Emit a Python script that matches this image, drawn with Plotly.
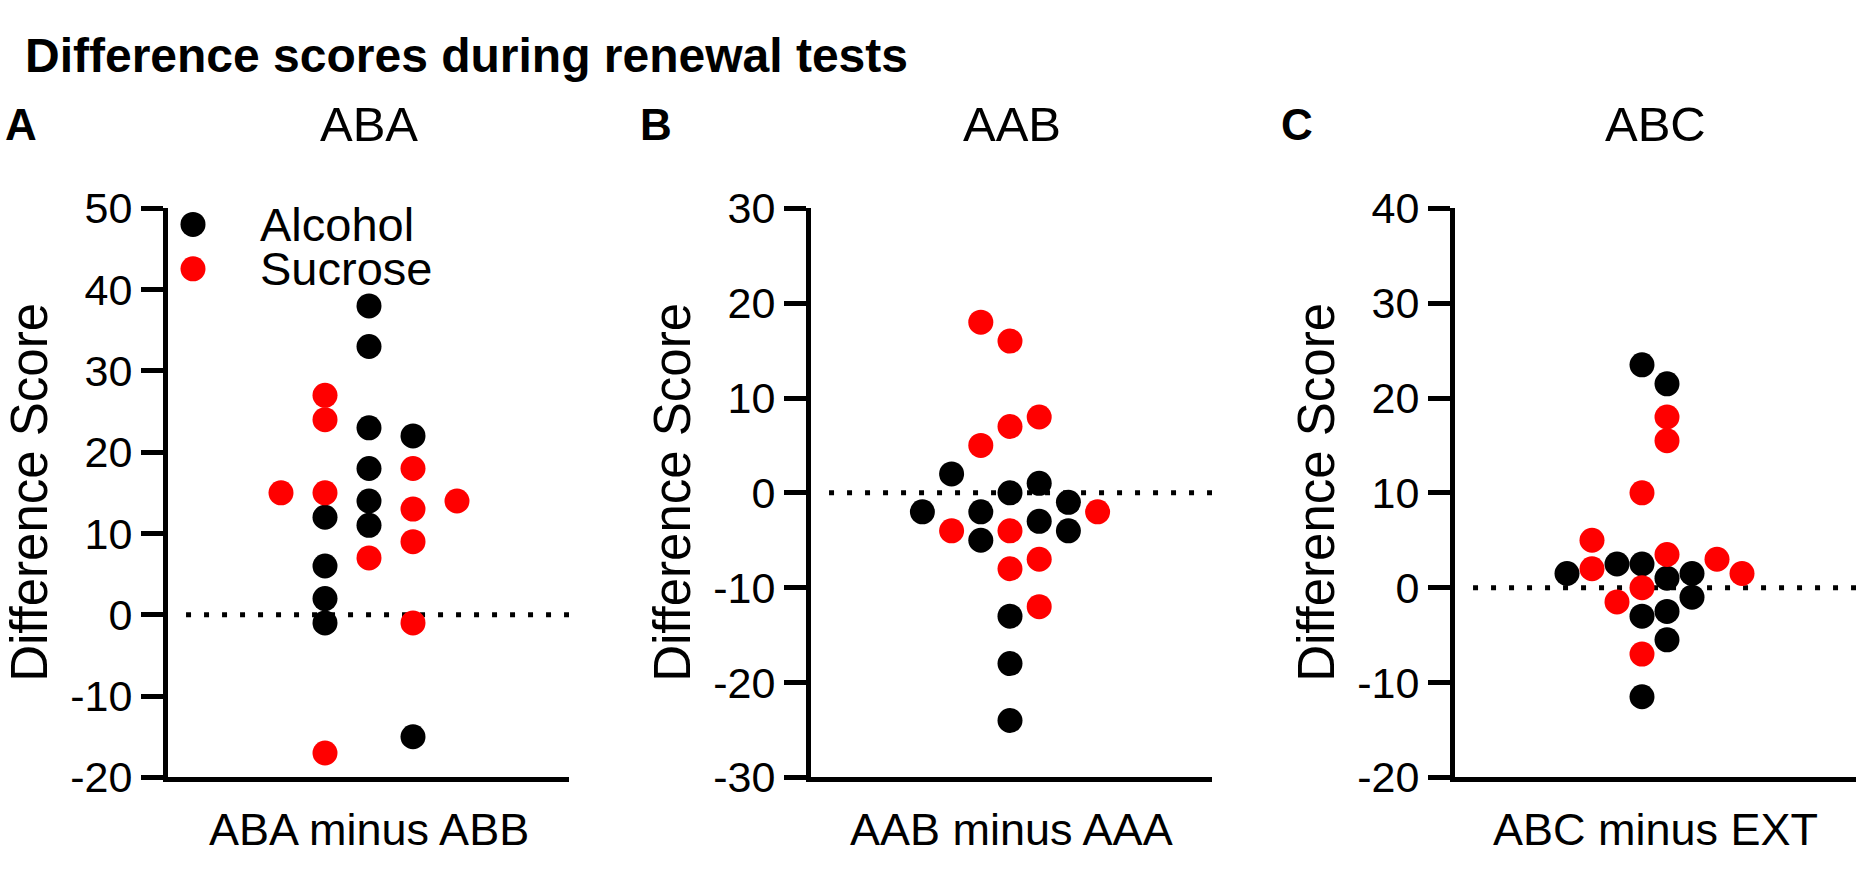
import plotly.graph_objects as go

W, H = 1861, 877
FONT = "Liberation Sans, Arial, sans-serif"

# --- data (difference scores) ---
# column index = horizontal slot of the dot in the scatter (beeswarm) column
aba_alcohol = [38, 33, 23, 18, 14, 11, 22, 12, 6, 2, -1, -15]
aba_alcohol_col = [0, 0, 0, 0, 0, 0, 1, -1, -1, -1, -1, 1]
aba_sucrose = [27, 24, 15, 15, 7, 18, 13, 9, -1, 14, -17]
aba_sucrose_col = [-1, -1, -2, -1, 0, 1, 1, 1, 1, 2, -1]

aab_alcohol = [2, -2, -2, -5, 0, 1, -1, -3, -4, -13, -18, -24]
aab_alcohol_col = [-2, -3, -1, -1, 0, 1, 2, 1, 2, 0, 0, 0]
aab_sucrose = [18, 16, 8, 7, 5, -4, -4, -2, -8, -7, -12]
aab_sucrose_col = [-1, 0, 1, 0, -1, -2, 0, 3, 0, 1, 1]

abc_alcohol = [23.5, 21.5, 1.5, 2.5, 2.5, 1, 1.5, -1, -3, -2.5, -5.5, -11.5]
abc_alcohol_col = [0, 1, -3, -1, 0, 1, 2, 2, 0, 1, 1, 0]
abc_sucrose = [18, 15.5, 10, 5, 2, 3.5, 3, 1.5, 0, -1.5, -7]
abc_sucrose_col = [1, 1, 0, -2, -2, 1, 3, 4, 0, -1, 0]

panel_letters = ["A", "B", "C"]
panel_titles = ["ABA", "AAB", "ABC"]
x_labels = ["ABA minus ABB", "AAB minus AAA", "ABC minus EXT"]
y_ranges = [(-20, 50), (-30, 30), (-20, 40)]
group_names = ["Alcohol", "Sucrose"]
group_colors = ["#000000", "#ff0000"]

panels = [
    (aba_alcohol, aba_alcohol_col, aba_sucrose, aba_sucrose_col),
    (aab_alcohol, aab_alcohol_col, aab_sucrose, aab_sucrose_col),
    (abc_alcohol, abc_alcohol_col, abc_sucrose, abc_sucrose_col),
]

# --- layout geometry (pixels) ---
axis_left = [168, 811, 1455]   # y axis position of each panel
axis_width = 401
plot_top, plot_bottom = 195, 797
col_step = [44, 29.2, 25]       # pixel distance between swarm columns
col_center = [201, 199, 187]    # pixel offset of column 0 from the y axis
letter_x = [21, 656, 1297]


def px_x(v):
    return v / W


def px_y(v):
    return (H - v) / H


fig = go.Figure()
layout = {}
annotations = []
shapes = []

for i, (alc, alc_col, suc, suc_col) in enumerate(panels):
    n = "" if i == 0 else str(i + 1)
    xa, ya = "x" + n, "y" + n

    for vals, cols, color in ((alc, alc_col, group_colors[0]), (suc, suc_col, group_colors[1])):
        fig.add_trace(go.Scatter(
            x=cols, y=vals, xaxis=xa, yaxis=ya, mode="markers",
            marker=dict(size=25, color=color, line=dict(width=0)),
            showlegend=False, hoverinfo="y",
        ))

    lo = -col_center[i] / col_step[i]
    hi = (axis_width - col_center[i]) / col_step[i]
    ticks = list(range(y_ranges[i][0], y_ranges[i][1] + 1, 10))
    layout["xaxis" + n] = dict(
        domain=[px_x(axis_left[i]), px_x(axis_left[i] + axis_width)],
        range=[lo, hi], anchor=ya, showline=True, linewidth=5, linecolor="black",
        showticklabels=False, ticks="", showgrid=False, zeroline=False,
    )
    layout["yaxis" + n] = dict(
        domain=[px_y(plot_bottom), px_y(plot_top)],
        range=list(y_ranges[i]), anchor=xa,
        tickvals=ticks, ticktext=[str(t) for t in ticks],
        showline=True, linewidth=5, linecolor="black",
        ticks="outside", ticklen=22, tickwidth=5, tickcolor="black",
        tickfont=dict(size=43, color="black", family=FONT),
        showgrid=False, zeroline=False,
    )

    # dotted zero line
    shapes.append(dict(
        type="line", xref=xa + " domain", yref=ya, x0=0.045, x1=1, y0=0, y1=0,
        line=dict(color="black", width=5, dash="5px,13px"), layer="below",
    ))

    centre = axis_left[i] + axis_width / 2
    annotations += [
        dict(text="<b>" + panel_letters[i] + "</b>", x=px_x(letter_x[i]), y=px_y(106),
             font=dict(size=44, family=FONT, color="black")),
        dict(text=panel_titles[i], x=px_x(centre), y=px_y(106),
             font=dict(size=49, family=FONT, color="black")),
        dict(text=x_labels[i], x=px_x(centre), y=px_y(852),
             font=dict(size=45, family=FONT, color="black")),
        dict(text="Difference Score", x=px_x(axis_left[i] - 138),
             y=px_y((plot_top + plot_bottom) / 2), textangle=-90,
             font=dict(size=51, family=FONT, color="black")),
    ]

# legend in panel A
for k, (name, color) in enumerate(zip(group_names, group_colors)):
    yc = px_y(212 + 47 * k)
    shapes.append(dict(
        type="circle", xref="paper", yref="paper",
        xsizemode="pixel", ysizemode="pixel", xanchor=px_x(193), yanchor=yc,
        x0=-12.5, x1=12.5, y0=-12.5, y1=12.5,
        fillcolor=color, line=dict(width=0),
    ))
    annotations.append(dict(
        text=name, x=px_x(259), y=yc, xanchor="left",
        font=dict(size=47, family=FONT, color="black"),
    ))

annotations.append(dict(
    text="<b>Difference scores during renewal tests</b>", x=px_x(24), y=px_y(33),
    xanchor="left", font=dict(size=48, family=FONT, color="black"),
))

for a in annotations:
    a.update(xref="paper", yref="paper", showarrow=False, borderpad=0)
    a.setdefault("xanchor", "center")
    a.setdefault("yanchor", "middle")

fig.update_layout(
    **layout,
    width=W, height=H, margin=dict(l=0, r=0, t=0, b=0),
    paper_bgcolor="white", plot_bgcolor="white",
    annotations=annotations, shapes=shapes,
    font=dict(family=FONT, color="black"),
)

fig.write_html(
    "out.html",
    config={"displayModeBar": False},
    post_script="document.body.style.margin='0';document.body.style.overflow='hidden';",
)
